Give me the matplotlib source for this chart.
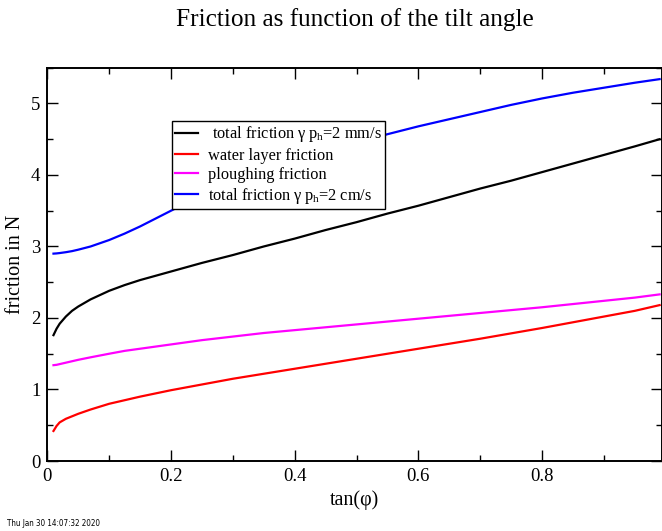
import matplotlib
matplotlib.use("Agg")
import matplotlib.pyplot as plt
from matplotlib.ticker import MultipleLocator, FuncFormatter

plt.rcParams['font.family'] = ['Liberation Serif', 'DejaVu Serif']
plt.rcParams['mathtext.fontset'] = 'custom'
plt.rcParams['mathtext.rm'] = 'Liberation Serif'
plt.rcParams['mathtext.it'] = 'Liberation Serif:italic'

tan_phi = [0.01, 0.015, 0.02, 0.03, 0.04, 0.05, 0.07, 0.1, 0.125, 0.15, 0.175, 0.2, 0.25, 0.3,
           0.35, 0.4, 0.45, 0.5, 0.55, 0.6, 0.65, 0.7, 0.75, 0.8, 0.85, 0.9, 0.95, 0.99]
total_mm = [1.76, 1.85, 1.92, 2.02, 2.10, 2.16, 2.26, 2.38, 2.46, 2.53, 2.59, 2.65, 2.77, 2.88,
            3.00, 3.11, 3.23, 3.34, 3.46, 3.57, 3.69, 3.81, 3.92, 4.04, 4.16, 4.28, 4.40, 4.50]
water = [0.42, 0.49, 0.54, 0.59, 0.625, 0.66, 0.72, 0.80, 0.85, 0.90, 0.945, 0.99, 1.07, 1.15,
         1.22, 1.29, 1.36, 1.43, 1.50, 1.57, 1.64, 1.71, 1.785, 1.86, 1.94, 2.02, 2.10, 2.18]
plough = [1.34, 1.345, 1.355, 1.375, 1.395, 1.415, 1.45, 1.50, 1.54, 1.57, 1.60, 1.63, 1.69, 1.74,
          1.79, 1.83, 1.87, 1.91, 1.95, 1.99, 2.03, 2.07, 2.11, 2.15, 2.195, 2.24, 2.285, 2.33]
total_cm = [2.90, 2.903, 2.908, 2.92, 2.935, 2.955, 3.00, 3.09, 3.18, 3.28, 3.39, 3.50, 3.72, 3.92,
            4.07, 4.20, 4.33, 4.45, 4.57, 4.68, 4.78, 4.88, 4.98, 5.07, 5.15, 5.22, 5.29, 5.34]

labels = [" total friction γ\u2009p$_{\\mathrm{h}}$=2 mm/s",
          "water layer friction",
          "ploughing friction",
          "total friction γ\u2009p$_{\\mathrm{h}}$=2 cm/s"]
colors = ["black", "red", "#ff00ff", "blue"]

W, H = 662, 531
fig = plt.figure(figsize=(W / 100, H / 100), dpi=100)
left, right, top, bottom = 47.3, 661.5, 67.7, 461.0
ax = fig.add_axes([left / W, 1 - bottom / H, (right - left) / W, (bottom - top) / H])

for ys, c, lab in zip([total_mm, water, plough, total_cm], colors, labels):
    ax.plot(tan_phi, ys, color=c, lw=1.6, label=lab)

ax.set_xlim(0, (right - left) / 618.5)
ax.set_ylim(0, 5.5)
ax.xaxis.set_major_locator(MultipleLocator(0.2))
ax.xaxis.set_minor_locator(MultipleLocator(0.1))
ax.yaxis.set_major_locator(MultipleLocator(1))
ax.yaxis.set_minor_locator(MultipleLocator(0.5))
ax.xaxis.set_major_formatter(FuncFormatter(lambda v, p: f"{v:g}"))
ax.tick_params(which='both', direction='in', top=True, right=True, labelsize=13.5, width=1)
ax.tick_params(which='major', length=8, pad=5)
ax.tick_params(which='minor', length=4)
for s in ax.spines.values():
    s.set_linewidth(1.4)

ax.set_xlabel("tan(φ)", fontsize=14.5, labelpad=4)
ax.set_ylabel("friction in N", fontsize=14.5, labelpad=4)
fig.text((left + right) / 2 / W, 1 - 20 / H, "Friction as function of the tilt angle",
         ha='center', va='center', fontsize=18.2)

leg = ax.legend(loc='upper left', bbox_to_anchor=(171.7 / W, 1 - 121 / H),
                bbox_transform=fig.transFigure, fontsize=11.8, frameon=True, fancybox=False,
                borderaxespad=0, borderpad=0.2, handlelength=1.4, handletextpad=0.6,
                labelspacing=0.2)
leg.get_frame().set_edgecolor('black')
leg.get_frame().set_linewidth(1.0)
leg.get_frame().set_alpha(1)

fig.text(7 / W, 1 - 523 / H, "Thu Jan 30 14:07:32 2020", fontsize=5.8,
         family='DejaVu Sans', stretch='condensed', va='center', ha='left')

fig.savefig("out.png", dpi=100)
